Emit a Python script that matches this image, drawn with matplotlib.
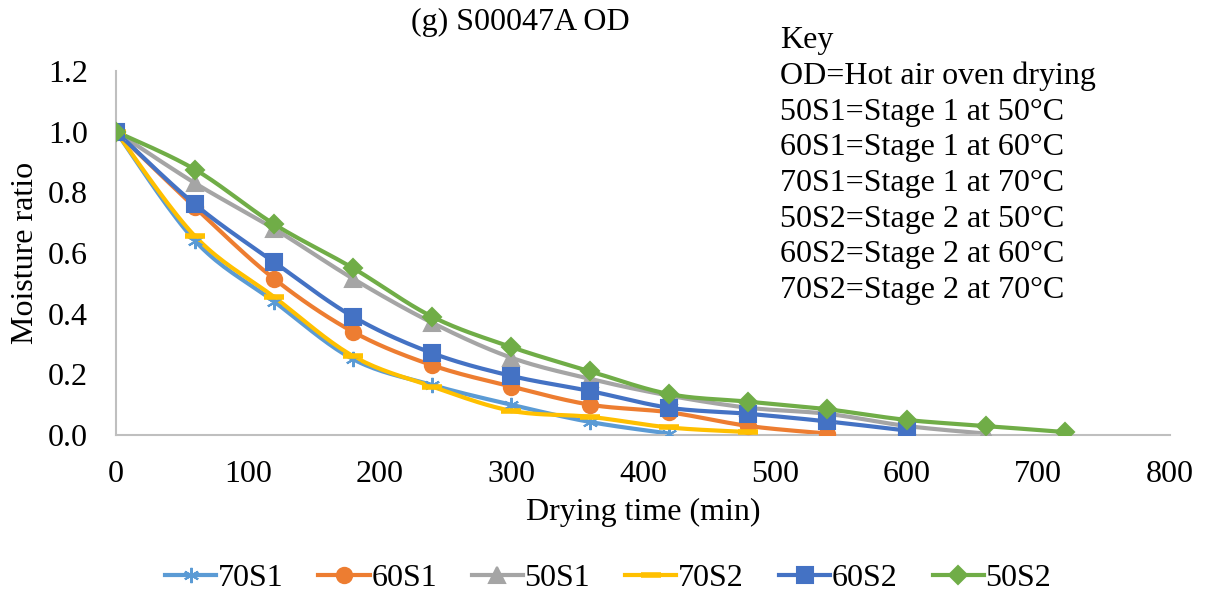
import numpy as np
import matplotlib.pyplot as plt
from matplotlib.lines import Line2D

plt.rcParams['font.family'] = ['Liberation Serif', 'DejaVu Serif']

time_min = [0, 60, 120, 180, 240, 300, 360, 420, 480, 540, 600, 660, 720]

mr_70S1 = [1.0, 0.64, 0.44, 0.25, 0.165, 0.10, 0.043, 0.005]
mr_60S1 = [1.0, 0.75, 0.515, 0.34, 0.23, 0.16, 0.10, 0.075, 0.03, 0.005]
mr_50S1 = [1.0, 0.83, 0.68, 0.515, 0.37, 0.255, 0.185, 0.13, 0.09, 0.07, 0.03, 0.005]
mr_70S2 = [1.0, 0.655, 0.455, 0.26, 0.16, 0.08, 0.06, 0.025, 0.01]
mr_60S2 = [1.0, 0.76, 0.57, 0.39, 0.27, 0.195, 0.145, 0.09, 0.07, 0.045, 0.015]
mr_50S2 = [1.0, 0.875, 0.695, 0.55, 0.39, 0.29, 0.21, 0.135, 0.11, 0.085, 0.05, 0.03, 0.01]

series_names = ['70S1', '60S1', '50S1', '70S2', '60S2', '50S2']
series_vals = [mr_70S1, mr_60S1, mr_50S1, mr_70S2, mr_60S2, mr_50S2]
colors = ['#5B9BD5', '#ED7D31', '#A5A5A5', '#FFC000', '#4472C4', '#70AD47']
markers = [(6, 2, 0), 'o', '^', '_', 's', 'D']
msizes = [11, 11, 11, 14, 11, 9]

key_text = ("Key\nOD=Hot air oven drying\n50S1=Stage 1 at 50\u00b0C\n60S1=Stage 1 at 60\u00b0C\n"
            "70S1=Stage 1 at 70\u00b0C\n50S2=Stage 2 at 50\u00b0C\n60S2=Stage 2 at 60\u00b0C\n"
            "70S2=Stage 2 at 70\u00b0C")

fs = 23


def smooth(x, y, n=20):
    # bezier curve through the points, like Excel smoothed lines
    x = np.asarray(x, float)
    y = np.asarray(y, float)
    if len(x) < 3:
        return x, y
    px = np.concatenate([[x[0]], x, [x[-1]]])
    py = np.concatenate([[y[0]], y, [y[-1]]])
    xs, ys = [], []
    t = np.linspace(0, 1, n)
    for i in range(1, len(px) - 2):
        p0, p1, p2, p3 = [np.array([px[j], py[j]]) for j in (i - 1, i, i + 1, i + 2)]
        c1 = p1 + (p2 - p0) / 6.0
        c2 = p2 - (p3 - p1) / 6.0
        pts = ((1 - t) ** 3)[:, None] * p1 + (3 * (1 - t) ** 2 * t)[:, None] * c1 \
            + (3 * (1 - t) * t ** 2)[:, None] * c2 + (t ** 3)[:, None] * p2
        xs.extend(pts[:, 0])
        ys.extend(pts[:, 1])
    return np.array(xs), np.array(ys)


fig = plt.figure(figsize=(12.16, 5.96), dpi=100)
ax = fig.add_axes([0.0954, 0.2700, 0.8668, 0.6110])

handles = []
for name, vals, c, m, ms in zip(series_names, series_vals, colors, markers, msizes):
    xv = time_min[:len(vals)]
    sx, sy = smooth(xv, vals)
    ax.plot(sx, sy, color=c, lw=3, zorder=2)
    mew = 4 if m == '_' else 1.5
    ax.plot(xv, vals, linestyle='none', marker=m, color=c, markersize=ms,
            markeredgewidth=mew, zorder=3)
    handles.append(Line2D([], [], color=c, lw=3, marker=m, markersize=ms,
                          markeredgewidth=mew, label=name))

ax.set_xlim(0, 800)
ax.set_ylim(0, 1.2)
ax.set_xticks(np.arange(0, 801, 100))
ax.set_yticks(np.arange(0, 1.21, 0.2))
ax.yaxis.set_major_formatter(plt.FormatStrFormatter('%.1f'))
ax.tick_params(axis='y', length=0, labelsize=fs, pad=20)
ax.tick_params(axis='x', length=0, labelsize=fs, pad=18)
for s in ['top', 'right']:
    ax.spines[s].set_visible(False)
for s in ['left', 'bottom']:
    ax.spines[s].set_color('#BFBFBF')
    ax.spines[s].set_linewidth(1.5)

ax.set_xlabel('Drying time (min)', fontsize=fs, labelpad=6)
ax.set_ylabel('Moisture ratio', fontsize=fs, labelpad=6)

fig.text(520 / 1216, 1 - 22 / 596, '(g) S00047A OD', fontsize=fs, ha='center', va='center')
fig.text(780 / 1216, 1 - 26 / 596, key_text, fontsize=fs, ha='left', va='top', linespacing=1.3)

fig.legend(handles=handles, loc='center', bbox_to_anchor=(0.5, 0.03), ncol=6,
           frameon=False, fontsize=fs, handlelength=1.6, handletextpad=0.05,
           columnspacing=1.1)

fig.savefig('out.png', dpi=100)
